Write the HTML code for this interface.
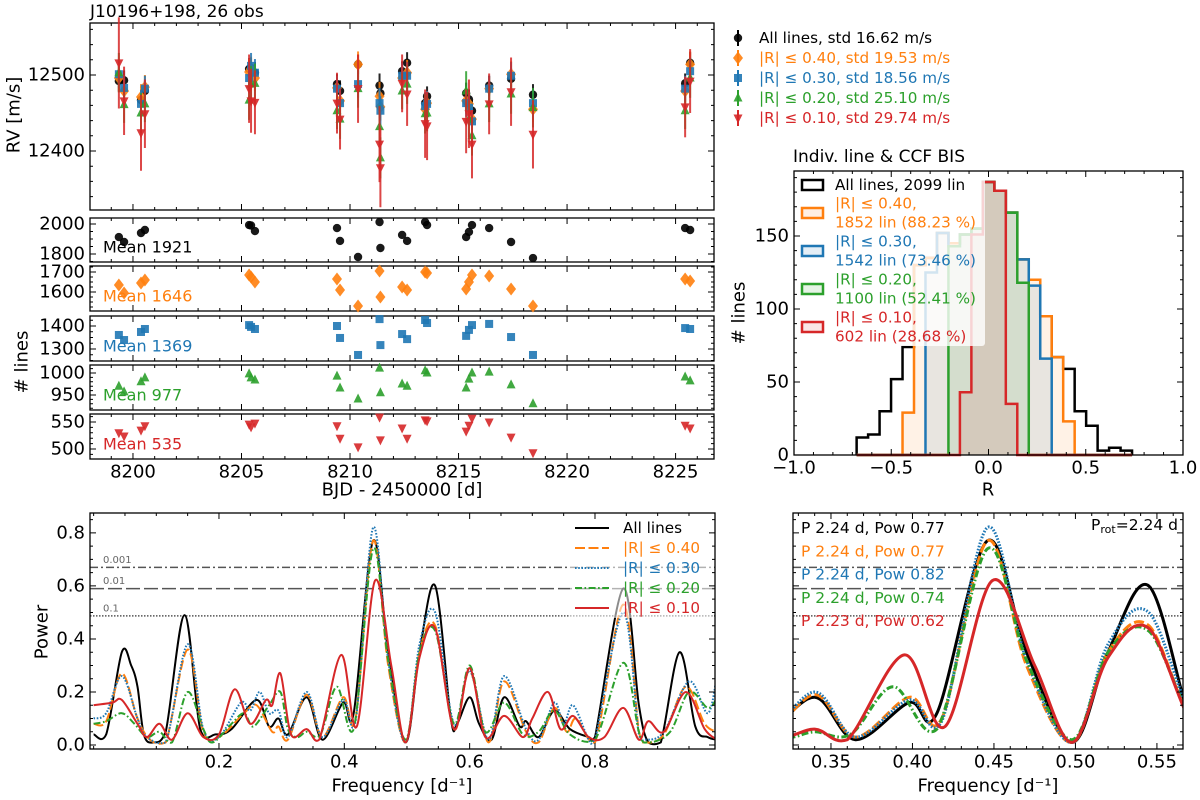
<!DOCTYPE html>
<html><head><meta charset="utf-8"><style>
html,body{margin:0;padding:0;background:#fff;}
svg{display:block;font-family:"DejaVu Sans","Liberation Sans",sans-serif;}
</style></head><body>
<svg id="chart" width="1200" height="800" xmlns="http://www.w3.org/2000/svg">
<defs>
<clipPath id="clipPL"><rect x="90" y="513" width="625" height="236"/></clipPath>
<clipPath id="clipPR"><rect x="793" y="513" width="390" height="236"/></clipPath>
</defs>
</svg>
<script>
// ---------------- DATA ----------------
const obsTime = [8199.35,8199.59,8200.37,8200.55,8205.35,8205.44,8205.62,8209.40,8209.54,8210.37,8211.36,8211.40,8212.40,8212.63,8213.46,8213.55,8215.35,8215.48,8215.62,8216.41,8217.42,8218.43,8225.44,8225.67];
const rvAll = [12492,12493,12467,12479,12508,12509,12503,12488,12479,12514,12486,12476,12505,12516,12463,12472,12476,12468,12453,12486,12495,12474,12489,12516];
const rv040 = [12496,12479,12471,12484,12504,12508,12496,12483,12466,12514,12472,12458,12496,12503,12455,12463,12466,12462,12442,12482,12501,12455,12479,12514];
const rv030 = [12501,12483,12462,12482,12496,12512,12503,12482,12463,12488,12463,12453,12499,12499,12459,12462,12463,12457,12439,12482,12499,12463,12482,12505];
const rv020 = [12503,12461,12450,12462,12467,12488,12489,12453,12442,12482,12432,12391,12479,12488,12449,12450,12479,12442,12420,12462,12475,12457,12453,12496];
const rv010 = [12516,12466,12424,12449,12482,12466,12464,12463,12442,12482,12409,12378,12489,12475,12436,12433,12439,12449,12409,12462,12478,12422,12458,12492];
const errAll = [14,13,14,13,14,13,14,13,14,13,16,15,13,14,14,13,14,13,14,13,14,14,13,14];
const err040 = [17,16,17,16,17,16,17,16,17,17,19,18,16,17,17,16,17,16,17,16,17,17,16,17];
const err030 = [18,17,18,17,18,17,18,17,18,18,20,19,17,18,18,17,18,17,18,17,18,18,17,18];
const err020 = [26,24,26,24,26,24,26,24,26,25,28,27,24,26,26,24,26,24,26,24,26,26,24,26];
const err010 = [60,45,50,45,45,42,42,40,40,45,50,52,38,42,45,45,42,45,45,40,45,45,40,42];
const nAll = [1913,1880,1940,1960,1993,1990,1953,1973,1887,1780,2013,1840,1927,1887,2013,1993,1913,1947,1993,1973,1880,1773,1973,1960];
const n040 = [1635,1595,1645,1660,1685,1675,1650,1665,1610,1530,1705,1575,1625,1610,1700,1695,1615,1650,1685,1680,1615,1530,1665,1655];
const n030 = [1361,1339,1374,1387,1404,1396,1387,1400,1348,1274,1430,1317,1365,1343,1426,1413,1357,1383,1404,1409,1352,1274,1391,1387];
const n020 = [970,957,980,989,998,989,984,993,966,941,1011,955,975,970,1005,1000,966,986,1000,1002,973,930,991,982];
const n010 = [530,524,535,543,546,541,548,543,520,504,559,517,539,520,554,552,533,544,557,550,522,493,544,539];
const meanLabels = ["Mean 1921","Mean 1646","Mean 1369","Mean 977","Mean 535"];
const rvLegend = ["All lines, std 16.62 m/s","|R|\u00a0\u2264\u00a00.40, std 19.53 m/s","|R|\u00a0\u2264\u00a00.30, std 18.56 m/s","|R|\u00a0\u2264\u00a00.20, std 25.10 m/s","|R|\u00a0\u2264\u00a00.10, std 29.74 m/s"];
// histogram (R bins)
const binStart = -0.678, binWidth = 0.059;
const hAll = [12,14,30,52,74,130,135,152,145,151,155,187,181,166,134,120,95,67,59,30,20,3,5,3];
const h040 = [0,0,0,0,29,130,135,152,145,151,155,187,181,166,134,120,95,67,23,0,0,0,0,0];
const h030 = [0,0,0,0,0,0,125,152,143,151,155,187,181,166,134,116,66,0,0,0,0,0,0,0];
const h020 = [0,0,0,0,0,0,0,0,143,151,155,187,181,166,118,0,0,0,0,0,0,0,0,0];
const h010 = [0,0,0,0,0,0,0,0,0,43,151,187,181,35,0,0,0,0,0,0,0,0,0,0];
const histLegend = [["All lines, 2099 lin"],["|R|\u00a0\u2264\u00a00.40,","1852 lin (88.23 %)"],["|R|\u00a0\u2264\u00a00.30,","1542 lin (73.46 %)"],["|R|\u00a0\u2264\u00a00.20,","1100 lin (52.41 %)"],["|R|\u00a0\u2264\u00a00.10,","602 lin (28.68 %)"]];
// periodograms: [frequency, power]
const pgAll = [[0,0.04],[0.02,0.04],[0.045,0.35],[0.06,0.30],[0.07,0.22],[0.08,0.04],[0.095,0.01],[0.115,0.05],[0.145,0.49],[0.17,0.06],[0.195,0.04],[0.22,0.06],[0.26,0.17],[0.28,0.07],[0.295,0.10],[0.31,0.04],[0.34,0.18],[0.365,0.02],[0.398,0.16],[0.415,0.12],[0.446,0.77],[0.47,0.35],[0.498,0.01],[0.52,0.35],[0.545,0.60],[0.57,0.10],[0.58,0.08],[0.6,0.18],[0.615,0.08],[0.635,0.02],[0.655,0.18],[0.68,0.07],[0.69,0.09],[0.71,0.03],[0.735,0.13],[0.76,0.06],[0.79,0.03],[0.80,0.03],[0.845,0.59],[0.87,0.15],[0.885,0.01],[0.905,0.01],[0.935,0.35],[0.96,0.07],[0.98,0.03],[0.995,0.02]];
const pg040 = [[0,0.08],[0.02,0.09],[0.045,0.27],[0.07,0.10],[0.09,0.02],[0.115,0.01],[0.15,0.36],[0.175,0.05],[0.2,0.03],[0.24,0.12],[0.26,0.15],[0.285,0.05],[0.295,0.07],[0.31,0.02],[0.34,0.19],[0.365,0.03],[0.398,0.18],[0.418,0.10],[0.446,0.77],[0.47,0.30],[0.498,0.01],[0.52,0.35],[0.545,0.45],[0.575,0.06],[0.6,0.28],[0.63,0.01],[0.655,0.24],[0.69,0.05],[0.71,0.01],[0.735,0.14],[0.755,0.05],[0.77,0.10],[0.80,0.01],[0.845,0.53],[0.87,0.05],[0.88,0.01],[0.91,0.04],[0.945,0.22],[0.975,0.08],[0.995,0.05]];
const pg030 = [[0,0.10],[0.02,0.12],[0.045,0.26],[0.07,0.10],[0.085,0.03],[0.115,0.01],[0.15,0.38],[0.175,0.06],[0.2,0.03],[0.235,0.16],[0.25,0.13],[0.265,0.20],[0.28,0.12],[0.295,0.13],[0.31,0.03],[0.34,0.20],[0.365,0.03],[0.398,0.17],[0.418,0.09],[0.446,0.82],[0.47,0.32],[0.498,0.01],[0.52,0.38],[0.545,0.50],[0.575,0.08],[0.6,0.28],[0.63,0.02],[0.655,0.26],[0.69,0.06],[0.71,0.02],[0.735,0.16],[0.75,0.08],[0.765,0.15],[0.79,0.02],[0.80,0.02],[0.845,0.50],[0.87,0.04],[0.88,0.02],[0.91,0.05],[0.95,0.24],[0.98,0.12],[0.995,0.27]];
const pg020 = [[0,0.08],[0.02,0.09],[0.045,0.12],[0.065,0.08],[0.085,0.03],[0.105,0.05],[0.125,0.01],[0.15,0.20],[0.175,0.06],[0.19,0.01],[0.22,0.08],[0.24,0.12],[0.255,0.07],[0.28,0.15],[0.298,0.20],[0.31,0.06],[0.325,0.03],[0.34,0.05],[0.362,0.04],[0.388,0.22],[0.415,0.06],[0.446,0.74],[0.47,0.32],[0.498,0.02],[0.52,0.35],[0.545,0.43],[0.575,0.08],[0.6,0.30],[0.625,0.05],[0.655,0.16],[0.685,0.04],[0.71,0.05],[0.735,0.13],[0.76,0.04],[0.80,0.02],[0.845,0.31],[0.87,0.05],[0.885,0.01],[0.92,0.05],[0.95,0.20],[0.98,0.14],[0.995,0.18]];
const pg010 = [[0,0.15],[0.03,0.16],[0.045,0.17],[0.07,0.08],[0.085,0.03],[0.105,0.08],[0.125,0.02],[0.15,0.12],[0.175,0.03],[0.2,0.04],[0.225,0.21],[0.25,0.08],[0.275,0.17],[0.285,0.15],[0.298,0.27],[0.315,0.04],[0.34,0.06],[0.36,0.02],[0.395,0.34],[0.42,0.07],[0.449,0.62],[0.475,0.30],[0.498,0.01],[0.52,0.33],[0.545,0.44],[0.575,0.06],[0.6,0.29],[0.625,0.03],[0.655,0.11],[0.685,0.03],[0.70,0.10],[0.725,0.20],[0.745,0.06],[0.765,0.11],[0.79,0.03],[0.815,0.03],[0.845,0.14],[0.87,0.02],[0.885,0.09],[0.91,0.05],[0.945,0.20],[0.975,0.06],[0.995,0.02]];
const fapLevels = [0.67,0.59,0.487];
const fapLabels = ["0.001","0.01","0.1"];
const pgLegend = ["All lines","|R|\u00a0\u2264\u00a00.40","|R|\u00a0\u2264\u00a00.30","|R|\u00a0\u2264\u00a00.20","|R|\u00a0\u2264\u00a00.10"];
const peakLabels = ["P 2.24 d, Pow 0.77","P 2.24 d, Pow 0.77","P 2.24 d, Pow 0.82","P 2.24 d, Pow 0.74","P 2.23 d, Pow 0.62"];

// ---------------- HELPERS ----------------
const NS='http://www.w3.org/2000/svg';
const svg=document.getElementById('chart');
const COLORS=['#000000','#ff7f0e','#1f77b4','#2ca02c','#d62728'];
const SNAMES=['all-lines','r-040','r-030','r-020','r-010'];
function mk(tag,parent){const e=document.createElementNS(NS,tag);(parent||svg).appendChild(e);return e;}
function at(e,o){for(const k in o)e.setAttribute(k,o[k]);return e;}
function txt(parent,x,y,s,size,anchor,fill,name){
  const t=mk('text',parent);
  at(t,{x:x,y:y,'font-size':size,'text-anchor':anchor||'start',fill:fill||'#000','dominant-baseline':'central'});
  t.textContent=s;
  
  
  return t;
}
function axes(name,L,R,T,B,x0,x1,y0,y1){
  const g=mk('g');
  
  
  return {g,L,R,T,B,sx:v=>L+(v-x0)/(x1-x0)*(R-L),sy:v=>B-(v-y0)/(y1-y0)*(B-T),x0,x1,y0,y1};
}
function range(a,b,s){const r=[];for(let v=a;v<=b+1e-9;v+=s)r.push(+v.toFixed(6));return r;}
function frame(a){
  const r=mk('rect',a.g);
  at(r,{x:a.L,y:a.T,width:a.R-a.L,height:a.B-a.T,fill:'none',stroke:'#000','stroke-width':1.3});
  
  
}
function ticks(a,xMaj,xMin,yMaj,yMin,xLab,yLab,xfmt,yfmt){
  let d='';
  const inX=v=>v>=a.x0-1e-9&&v<=a.x1+1e-9, inY=v=>v>=a.y0-1e-9&&v<=a.y1+1e-9;
  xMaj.filter(inX).forEach(v=>{const x=a.sx(v);d+=`M${x},${a.B}v-6M${x},${a.T}v6`;});
  xMin.filter(inX).forEach(v=>{const x=a.sx(v);d+=`M${x},${a.B}v-3M${x},${a.T}v3`;});
  yMaj.filter(inY).forEach(v=>{const y=a.sy(v);d+=`M${a.L},${y}h6M${a.R},${y}h-6`;});
  yMin.filter(inY).forEach(v=>{const y=a.sy(v);d+=`M${a.L},${y}h3M${a.R},${y}h-3`;});
  const p=mk('path',a.g);
  at(p,{d:d,stroke:'#000','stroke-width':1,fill:'none'});
  
  
  if(xLab) xMaj.filter(inX).forEach(v=>txt(a.g,a.sx(v),a.B+13,xfmt(v),18,'middle','#000','x-tick-label'));
  if(yLab) yMaj.filter(inY).forEach(v=>txt(a.g,a.L-5,a.sy(v),yfmt(v),18,'end','#000','y-tick-label'));
}
function marker(parent,kind,x,y,color){
  let e;
  if(kind===0){e=mk('circle',parent);at(e,{cx:x,cy:y,r:4.2,fill:color});}
  else if(kind===1){e=mk('path',parent);at(e,{d:`M${x},${y-6.5}L${x+5},${y}L${x},${y+6.5}L${x-5},${y}Z`,fill:color});}
  else if(kind===2){e=mk('rect',parent);at(e,{x:x-4,y:y-4,width:8,height:8,fill:color});}
  else if(kind===3){e=mk('path',parent);at(e,{d:`M${x},${y-5.5}L${x+4.5},${y+3.5}L${x-4.5},${y+3.5}Z`,fill:color});}
  else {e=mk('path',parent);at(e,{d:`M${x},${y+5.5}L${x+4.5},${y-3.5}L${x-4.5},${y-3.5}Z`,fill:color});}
  e.setAttribute('opacity','0.9');
  return e;
}
function smooth(pts,ymax){
  const cl=v=>Math.min(v,ymax);
  let d=`M${pts[0][0].toFixed(1)},${pts[0][1].toFixed(1)}`;
  for(let i=0;i<pts.length-1;i++){
    const p0=pts[i-1]||pts[i],p1=pts[i],p2=pts[i+1],p3=pts[i+2]||pts[i+1];
    const c1=[p1[0]+(p2[0]-p0[0])/6,cl(p1[1]+(p2[1]-p0[1])/6)];
    const c2=[p2[0]-(p3[0]-p1[0])/6,cl(p2[1]-(p3[1]-p1[1])/6)];
    d+=`C${c1[0].toFixed(1)},${c1[1].toFixed(1)} ${c2[0].toFixed(1)},${c2[1].toFixed(1)} ${p2[0].toFixed(1)},${p2[1].toFixed(1)}`;
  }
  return d;
}

// ---------------- TITLE ----------------
txt(svg,90,12,'J10196+198, 26 obs',17,'start','#000','figure-title');

// ---------------- RV PANEL ----------------
const rv=axes('rv-panel',90,714,23,210,8198.02,8226.77,12322.4,12568.4);
frame(rv);
const rvSeries=[rvAll,rv040,rv030,rv020,rv010], rvErr=[errAll,err040,err030,err020,err010];
rvSeries.forEach((ser,s)=>{
  const g=mk('g',rv.g);
  
  
  ser.forEach((v,i)=>{
    const x=rv.sx(obsTime[i]);
    const l=mk('line',g);
    at(l,{x1:x,x2:x,y1:rv.sy(v-rvErr[s][i]),y2:rv.sy(v+rvErr[s][i]),stroke:COLORS[s],'stroke-width':2,opacity:0.85});
    
    
    const m=marker(g,s,x,rv.sy(v),COLORS[s]);
    
    
  });
});
ticks(rv,range(8200,8225,5),range(8198,8226,1),[12400,12500],range(12340,12560,20),false,true,null,v=>String(v));
const rvyl=txt(svg,0,0,'RV [m/s]',18,'middle','#000','rv-y-axis-title');
rvyl.setAttribute('transform','translate(14,115) rotate(-90)');

// RV legend
rvLegend.forEach((s,i)=>{
  const y=38+i*20;
  const l=mk('line');
  at(l,{x1:738,x2:738,y1:y-8,y2:y+8,stroke:COLORS[i],'stroke-width':2});
  
  
  const m=marker(svg,i,738,y,COLORS[i]);
  
  
  txt(svg,759,y,s,15.2,'start',COLORS[i],'rv-legend-entry');
});

// ---------------- LINE COUNT PANELS ----------------
const subDefs=[[218,262,1746.7,2040,[1800,2000],range(1750,2000,50)],[266,311,1505,1730,[1600,1700],range(1525,1725,25)],[316,361,1247.8,1443.5,[1300,1400],range(1250,1425,25)],[365,410,915.9,1018.2,[950,1000],range(920,1010,10)],[414,459,481.5,564.8,[500,550],range(490,560,10)]];
const nSeries=[nAll,n040,n030,n020,n010];
subDefs.forEach((d,s)=>{
  const a=axes('line-count-panel-'+SNAMES[s],90,714,d[0],d[1],8198.02,8226.77,d[2],d[3]);
  frame(a);
  nSeries[s].forEach((v,i)=>{
    const m=marker(a.g,s,a.sx(obsTime[i]),a.sy(v),COLORS[s]);
    
    
  });
  ticks(a,range(8200,8225,5),range(8198,8226,1),d[4],d[5],s===4,true,v=>String(v),v=>String(v));
  txt(a.g,103,d[1]-15,meanLabels[s],16,'start',COLORS[s],'mean-label');
});
txt(svg,402,490,'BJD - 2450000 [d]',18,'middle','#000','bjd-x-axis-title');
const nyl=txt(svg,0,0,'# lines',18,'middle','#000','lines-y-axis-title');
nyl.setAttribute('transform','translate(22,362) rotate(-90)');

// ---------------- HISTOGRAM ----------------
const hi=axes('histogram-panel',794,1183,171,455,-1,1,0,194.5);
txt(svg,793,157,'Indiv. line & CCF BIS',17,'start','#000','histogram-title');
const hSeries=[hAll,h040,h030,h020,h010];
hSeries.forEach((h,s)=>{
  let d=`M${hi.sx(binStart)},${hi.sy(0)}`;
  h.forEach((c,i)=>{d+=`L${hi.sx(binStart+i*binWidth)},${hi.sy(c)}L${hi.sx(binStart+(i+1)*binWidth)},${hi.sy(c)}`;});
  d+=`L${hi.sx(binStart+h.length*binWidth)},${hi.sy(0)}`;
  if(s>0){
    const f=mk('path',hi.g);
    at(f,{d:d+'Z',fill:COLORS[s],'fill-opacity':0.1,stroke:'none'});
    
    
  }
  const p=mk('path',hi.g);
  at(p,{d:d,fill:'none',stroke:COLORS[s],'stroke-width':2.5,'stroke-linejoin':'miter'});
  
  
});
// legend
const hlb=mk('rect',hi.g);
at(hlb,{x:797,y:174,width:188,height:172,rx:3,fill:'#fff','fill-opacity':0.8,stroke:'none'});


const hlY=[185,213,251,289,327];
histLegend.forEach((lines,i)=>{
  const r=mk('rect',hi.g);
  at(r,{x:802,y:hlY[i]-5,width:21,height:10,fill:i===0?'#fff':COLORS[i],'fill-opacity':i===0?1:0.12,stroke:COLORS[i],'stroke-width':2.5});
  
  
  lines.forEach((s,k)=>txt(hi.g,835,(i===0?hlY[i]:hlY[i]-9.5)+k*19,s,15.2,'start',COLORS[i],'histogram-legend-entry'));
});
frame(hi);
ticks(hi,range(-1,1,0.5),range(-1,1,0.1),range(0,150,50),range(0,190,10),true,true,v=>(v<0?'\u2212':'')+Math.abs(v).toFixed(1),v=>String(v));
txt(svg,988,490,'R',18,'middle','#000','r-x-axis-title');
const hyl=txt(svg,0,0,'# lines',18,'middle','#000','histogram-y-axis-title');
hyl.setAttribute('transform','translate(739,313) rotate(-90)');

// ---------------- PERIODOGRAMS ----------------
const pgSeries=[pgAll,pg040,pg030,pg020,pg010];
const DASH=['none','10,3.5','1.6,1.6','7,2.5,1.6,2.5','none'];
const FAPDASH=['8,3,2,3','14,4','1.5,1.5'];
function periodogram(a,clip,lw,withLabels){
  fapLevels.forEach((v,k)=>{
    const l=mk('line',a.g);
    at(l,{x1:a.L,x2:a.R,y1:a.sy(v),y2:a.sy(v),stroke:'#555','stroke-width':1.5,'stroke-dasharray':FAPDASH[k]});
    
    
    if(withLabels) txt(a.g,103,a.sy(v)-7,fapLabels[k],10,'start','#666','fap-label');
  });
  const g=mk('g',a.g);
  g.setAttribute('clip-path',clip);
  
  
  pgSeries.forEach((ser,s)=>{
    const p=mk('path',g);
    at(p,{d:smooth(ser.map(q=>[a.sx(q[0]),a.sy(q[1])]),a.sy(0)),fill:'none',stroke:COLORS[s],'stroke-width':lw,'stroke-dasharray':DASH[s]});
    
    
  });
}
const pl=axes('periodogram-panel',90,715,513,749,-0.0058,0.9915,-0.015,0.875);
periodogram(pl,'url(#clipPL)',2,true);
const plb=mk('rect',pl.g);
at(plb,{x:570,y:516,width:142,height:102,fill:'#fff','fill-opacity':0.55});


pgLegend.forEach((s,i)=>{
  const y=528+i*20;
  const l=mk('line',pl.g);
  at(l,{x1:575,x2:609,y1:y,y2:y,stroke:COLORS[i],'stroke-width':2,'stroke-dasharray':DASH[i]});
  
  
  txt(pl.g,623,y,s,15.2,'start',COLORS[i],'periodogram-legend-entry');
});
frame(pl);
ticks(pl,range(0.2,0.8,0.2),range(0,1,0.05),range(0,0.8,0.2),range(0,0.85,0.05),true,true,v=>v.toFixed(1),v=>v.toFixed(1));
txt(svg,402,786,'Frequency [d\u207B\u00B9]',18,'middle','#000','frequency-x-axis-title');
const pyl=txt(svg,0,0,'Power',18,'middle','#000','power-y-axis-title');
pyl.setAttribute('transform','translate(42,632) rotate(-90)');

const pr=axes('periodogram-zoom-panel',793,1183,513,749,0.3267,0.566,-0.015,0.875);
periodogram(pr,'url(#clipPR)',3,false);
peakLabels.forEach((s,i)=>txt(pr.g,801,528+i*23.3,s,15.5,'start',COLORS[i],'peak-label'));
const prot=txt(pr.g,1178,525,'',15.5,'end','#000','prot-label');
prot.innerHTML='P<tspan font-size="11" dy="4">rot</tspan><tspan dy="-4">=2.24 d</tspan>';
frame(pr);
ticks(pr,range(0.35,0.55,0.05),range(0.33,0.56,0.01),range(0,0.8,0.2),range(0,0.85,0.05),true,false,v=>v.toFixed(2),null);
txt(svg,988,786,'Frequency [d\u207B\u00B9]',18,'middle','#000','frequency-zoom-x-axis-title');
</script>
</body></html>
